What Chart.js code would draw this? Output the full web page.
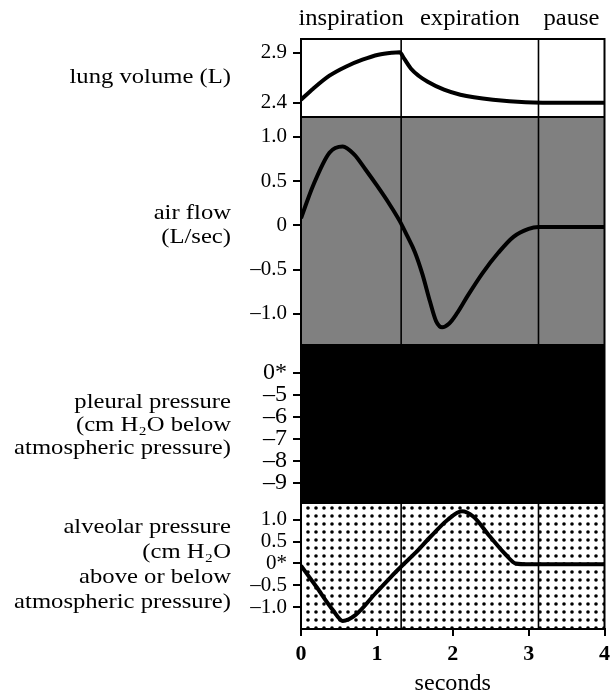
<!DOCTYPE html>
<html><head><meta charset="utf-8">
<script src="https://cdn.jsdelivr.net/npm/chart.js@4.4.0/dist/chart.umd.min.js"></script>
<style>html,body{margin:0;padding:0;background:#fff;}#wrap{width:615px;height:695px;position:relative;}</style>
</head><body><div id="wrap"><canvas id="c" width="615" height="695"></canvas></div>
<script>
// ---- data ----
const xTicks = [0, 1, 2, 3, 4];
const phaseLabels = ['inspiration', 'expiration', 'pause'];
const phaseBounds = [0, 1.32, 3.13, 4];

const volTicks = [2.4, 2.9];
const volTickLabels = ['2.4', '2.9'];
const volTime   = [0, 0.16, 0.375, 0.59, 0.81, 1.02, 1.2, 1.3, 1.36, 1.45, 1.55, 1.67, 1.885, 2.1, 2.53, 2.96, 3.5, 4];
const volValues = [2.43, 2.54, 2.67, 2.76, 2.83, 2.88, 2.90, 2.905, 2.84, 2.74, 2.67, 2.61, 2.53, 2.48, 2.43, 2.405, 2.40, 2.40];

const flowTicks = [-1, -0.5, 0, 0.5, 1];
const flowTickLabels = ['\u20131.0', '\u20130.5', '0', '0.5', '1.0'];
const flowTime   = [0, 0.16, 0.375, 0.55, 0.7, 0.85, 1.0, 1.15, 1.3, 1.4, 1.5, 1.6, 1.7, 1.78, 1.86, 1.95, 2.05, 2.2, 2.4, 2.6, 2.8, 3.0, 3.13, 4];
const flowValues = [0.08, 0.45, 0.82, 0.89, 0.80, 0.63, 0.45, 0.26, 0.05, -0.12, -0.30, -0.55, -0.86, -1.08, -1.15, -1.11, -1.0, -0.79, -0.53, -0.31, -0.13, -0.04, -0.02, -0.02];

const pleuralTicks = [-9, -8, -7, -6, -5, -4];
const pleuralTickLabels = ['\u20139', '\u20138', '\u20137', '\u20136', '\u20135', '0*'];

const alvTicks = [-1, -0.5, 0, 0.5, 1];
const alvTickLabels = ['\u20131.0', '\u20130.5', '0*', '0.5', '1.0'];
const alvTime   = [0, 0.2, 0.42, 0.55, 0.72, 0.98, 1.19, 1.345, 1.5, 1.71, 1.93, 2.12, 2.27, 2.49, 2.7, 2.83, 3.0, 4];
const alvValues = [-0.05, -0.53, -1.07, -1.32, -1.18, -0.69, -0.30, -0.03, 0.23, 0.62, 1.0, 1.2, 1.08, 0.62, 0.2, 0.0, -0.02, -0.02];

const panelLabels = {
  vol: ['lung volume (L)'],
  flow: ['air flow', '(L/sec)'],
  pleural: ['pleural pressure', '(cm H\u2082O below', 'atmospheric pressure)'],
  alv: ['alveolar pressure', '(cm H\u2082O', 'above or below', 'atmospheric pressure)']
};
const xTitle = 'seconds';

// ---- helpers ----
const SERIF = '"Liberation Serif", "Times New Roman", serif';
function pts(t, v) { return t.map((x, i) => ({x: x, y: v[i]})); }
function txt(ctx, s, x, y, size, align, stretch) {
  ctx.save();
  ctx.font = size + 'px ' + SERIF;
  ctx.fillStyle = '#000';
  ctx.textBaseline = 'middle';
  ctx.textAlign = align;
  ctx.translate(x, y);
  ctx.scale(stretch, 1);
  ctx.fillText(s, 0, 0);
  ctx.restore();
}
const dotTile = document.createElement('canvas');
dotTile.width = 8; dotTile.height = 8;
(function () {
  const c = dotTile.getContext('2d');
  c.fillStyle = '#fff'; c.fillRect(0, 0, 8, 8);
  c.fillStyle = '#000'; c.beginPath(); c.arc(4, 4, 1.8, 0, Math.PI * 2); c.fill();
})();

function yAxis(weight, min, max, ticks, labels, fontSize) {
  return {
    type: 'linear', position: 'left', stack: 'panels', stackWeight: weight,
    min: min, max: max,
    afterBuildTicks: s => { s.ticks = ticks.map(v => ({value: v})); },
    afterFit: s => { s.width = 301; },
    ticks: {
      autoSkip: false, color: '#000', padding: 6,
      font: {family: SERIF, size: fontSize},
      callback: (v, i) => labels[i]
    },
    grid: {drawOnChartArea: false, drawTicks: true, tickLength: 8, color: '#000', lineWidth: 2},
    border: {display: true, color: '#000', width: 2}
  };
}

const panelPlugin = {
  id: 'panels',
  beforeDraw(chart) {
    const {ctx, chartArea: a, scales: s} = chart;
    const L = a.left, W = a.right - a.left;
    ctx.save();
    ctx.fillStyle = '#fff';
    ctx.fillRect(L, s.yVol.top, W, s.yVol.bottom - s.yVol.top);
    ctx.fillStyle = '#808080';
    ctx.fillRect(L, s.yFlow.top, W, s.yFlow.bottom - s.yFlow.top);
    ctx.fillStyle = '#000';
    ctx.fillRect(L, s.yPl.top, W, s.yPl.bottom - s.yPl.top);
    ctx.fillStyle = ctx.createPattern(dotTile, 'repeat');
    ctx.fillRect(L, s.yAlv.top, W, s.yAlv.bottom - s.yAlv.top);
    ctx.restore();
  },
  beforeDatasetsDraw(chart) {
    const {ctx, chartArea: a, scales: s} = chart;
    ctx.save();
    ctx.strokeStyle = '#000'; ctx.lineWidth = 1.6;
    phaseBounds.slice(1, -1).forEach(t => {
      const x = s.x.getPixelForValue(t);
      ctx.beginPath(); ctx.moveTo(x, a.top); ctx.lineTo(x, a.bottom); ctx.stroke();
    });
    ctx.restore();
  },
  afterDatasetsDraw(chart) {
    const {ctx, chartArea: a, scales: s} = chart;
    ctx.save();
    ctx.strokeStyle = '#000'; ctx.lineWidth = 2;
    ctx.strokeRect(a.left, a.top, a.right - a.left, a.bottom - a.top);
    [s.yVol.bottom, s.yFlow.bottom, s.yPl.bottom].forEach(y => {
      ctx.beginPath(); ctx.moveTo(a.left, y); ctx.lineTo(a.right, y); ctx.stroke();
    });
    ctx.restore();
    // phase headers
    for (let i = 0; i < phaseLabels.length; i++) {
      const xc = (s.x.getPixelForValue(phaseBounds[i]) + s.x.getPixelForValue(phaseBounds[i + 1])) / 2;
      txt(ctx, phaseLabels[i], xc, 19, 23, 'center', 1.07);
    }
    // left panel labels
    const RX = 231;
    txt(ctx, panelLabels.vol[0], RX, 77, 22, 'right', 1.12);
    panelLabels.flow.forEach((t, i) => txt(ctx, t, RX, 213 + i * 24, 22, 'right', 1.12));
    panelLabels.pleural.forEach((t, i) => txt(ctx, t, RX, 402 + i * 23, 22, 'right', 1.12));
    panelLabels.alv.forEach((t, i) => txt(ctx, t, RX, 527 + i * 25, 22, 'right', 1.12));
    // x title
    txt(ctx, xTitle, s.x.getPixelForValue(2), 684, 23, 'center', 1.05);
  }
};

const lineStyle = {borderColor: '#000', borderWidth: 4, pointRadius: 0, fill: false, cubicInterpolationMode: 'monotone', xAxisID: 'x'};

new Chart(document.getElementById('c'), {
  type: 'line',
  data: {
    datasets: [
      Object.assign({label: 'lung volume (L)', data: pts(volTime, volValues), yAxisID: 'yVol'}, lineStyle),
      Object.assign({label: 'air flow (L/sec)', data: pts(flowTime, flowValues), yAxisID: 'yFlow'}, lineStyle),
      Object.assign({label: 'alveolar pressure', data: pts(alvTime, alvValues), yAxisID: 'yAlv'}, lineStyle)
    ]
  },
  options: {
    responsive: false, animation: false, devicePixelRatio: 1,
    layout: {padding: {top: 39, right: 5, left: 0, bottom: 0}},
    plugins: {legend: {display: false}, tooltip: {enabled: false}, title: {display: false}},
    scales: {
      x: {
        type: 'linear', position: 'bottom', min: 0, max: 4,
        afterBuildTicks: s => { s.ticks = xTicks.map(v => ({value: v})); },
        afterFit: s => { s.height = 66; },
        ticks: {autoSkip: false, maxRotation: 0, color: '#000', padding: 5,
          font: {family: SERIF, size: 22, weight: 'bold'}, callback: (v) => String(v)},
        grid: {drawOnChartArea: false, drawTicks: true, tickLength: 7, color: '#000', lineWidth: 2},
        border: {display: true, color: '#000', width: 2}
      },
      yAlv: yAxis(126, -1.506, 1.39, alvTicks, alvTickLabels, 21),
      yPl: yAxis(158, -9.91, -2.73, pleuralTicks, pleuralTickLabels, 24),
      yFlow: yAxis(228, -1.35, 1.222, flowTicks, flowTickLabels, 21),
      yVol: yAxis(78, 2.257, 3.037, volTicks, volTickLabels, 21)
    }
  },
  plugins: [panelPlugin]
});
</script>
</body></html>
